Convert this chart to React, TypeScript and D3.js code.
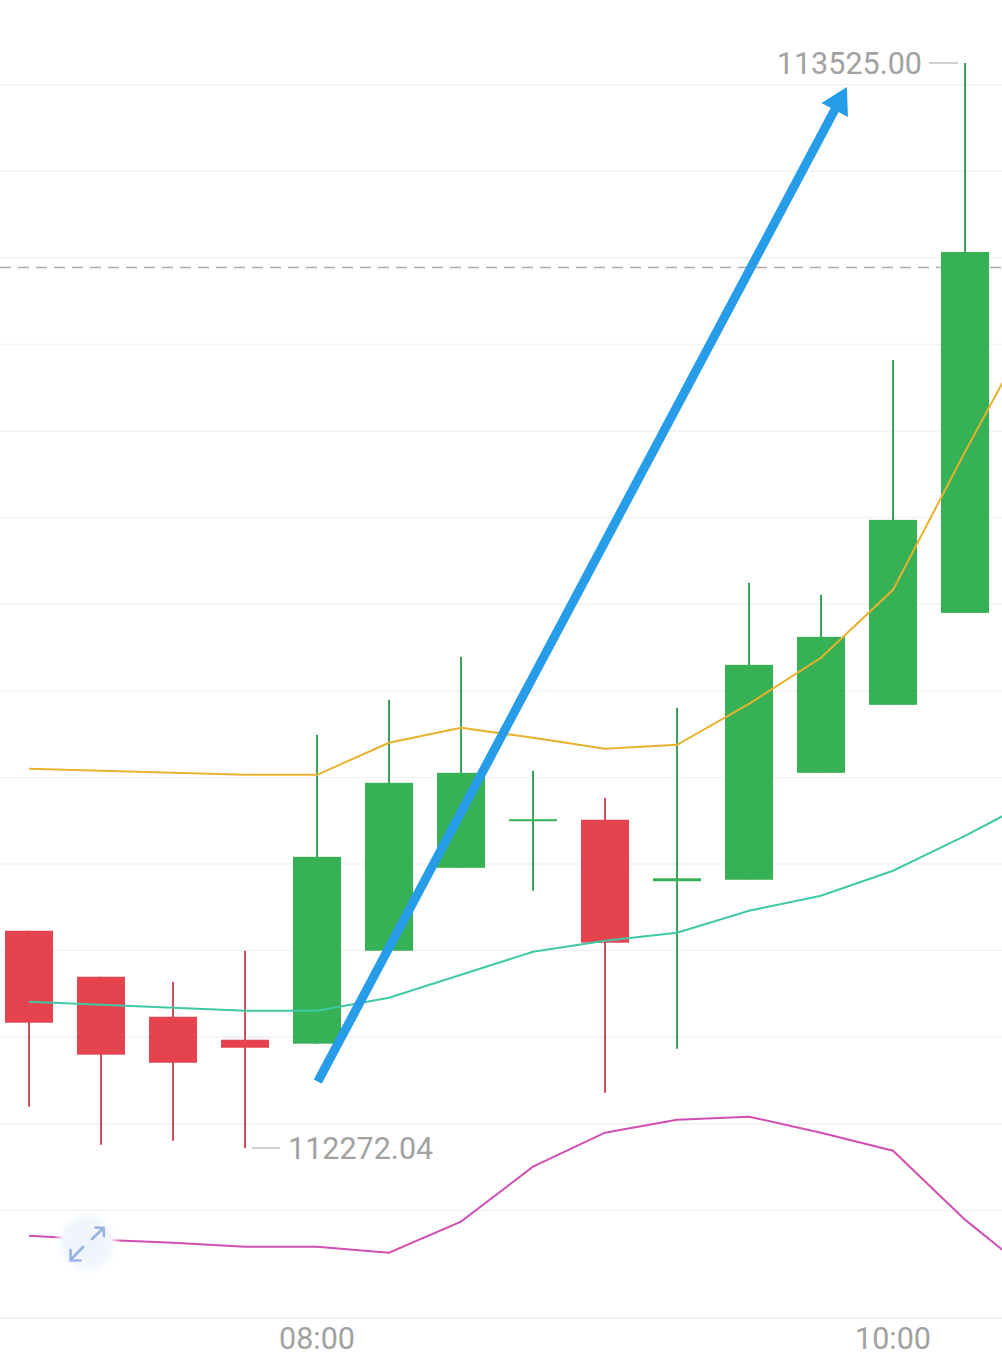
import React from "react";
import * as d3 from "d3";

const times = ["07:00", "07:15", "07:30", "07:45", "08:00", "08:15", "08:30", "08:45", "09:00", "09:15", "09:30", "09:45", "10:00", "10:15"];
const opens = [112522.9, 112469.8, 112423.6, 112397.1, 112392.5, 112499.8, 112595.6, 112651.5, 112651.1, 112580.1, 112581.8, 112705.3, 112783.8, 112890.0];
const closes = [112416.7, 112379.8, 112370.5, 112387.8, 112608.3, 112693.8, 112705.3, 112651.7, 112509.1, 112583.5, 112830.0, 112862.3, 112997.4, 113306.8];
const highs = [112522.9, 112469.8, 112464.0, 112499.8, 112749.2, 112789.6, 112839.2, 112707.6, 112676.5, 112780.4, 112924.7, 112910.8, 113182.1, 113525.0];
const lows = [112319.7, 112275.8, 112280.5, 112272.04, 112392.5, 112499.8, 112595.6, 112569.1, 112335.9, 112386.7, 112581.8, 112705.3, 112783.8, 112890.0];

// Bollinger-style bands (15 points; last one lies just past the right edge)
const upperBand = [112709.9, 112707.6, 112705.3, 112703.0, 112703.0, 112740.0, 112757.3, 112745.7, 112733.0, 112737.6, 112785.0, 112838.1, 112916.6, 113075.9, 113229.5];
const midBand = [112440.9, 112437.5, 112434.0, 112430.6, 112430.6, 112445.6, 112472.1, 112498.7, 112511.4, 112520.6, 112546.0, 112563.3, 112592.2, 112632.5, 112676.0];
const lowerBand = [112170.8, 112166.2, 112162.7, 112158.1, 112158.1, 112151.2, 112187.0, 112250.5, 112289.7, 112304.7, 112308.2, 112289.7, 112268.9, 112189.3, 112122.3];

const gridValues = [112200, 112300, 112400, 112500, 112600, 112700, 112800, 112900, 113000, 113100, 113200, 113300, 113400, 113500];
const currentPrice = 113288.7;
const maxLabel = "113525.00";
const minLabel = "112272.04";
const xTickLabels = ["08:00", "10:00"];

// Drawn trend arrow annotation: [candle index, price]
const arrowFrom = [4.01, 112348.6];
const arrowTo = [11.36, 113497.3];

const W = 1002;
const H = 1357;
const GREEN = "#37b155";
const GREEN_WICK = "#3f9f5d";
const RED = "#e5444f";
const RED_WICK = "#d44a5b";
const TEXT = "#a2a2a2";
const FONT = "Roboto, 'Noto Sans', sans-serif";
const FS = 30.5;

export default function App() {
  const x = d3.scaleLinear().domain([0, times.length - 1]).range([29, 965]);
  const y = d3.scaleLinear().domain([112272.04, 113525]).range([1148, 63]);
  const bodyW = 48;
  const axisY = 1318;

  const line = d3
    .line<number>()
    .x((_, i) => x(i))
    .y((d) => y(d));

  const candles = times.map((t, i) => {
    const o = opens[i];
    const c = closes[i];
    const up = c >= o;
    const top = y(Math.max(o, c));
    const bot = y(Math.min(o, c));
    const h = Math.max(bot - top, 2);
    return (
      <g key={t}>
        <line
          x1={x(i)}
          x2={x(i)}
          y1={y(highs[i])}
          y2={y(lows[i])}
          stroke={up ? GREEN_WICK : RED_WICK}
          strokeWidth={2}
        />
        <rect x={x(i) - bodyW / 2} y={top} width={bodyW} height={h} fill={up ? GREEN : RED} />
      </g>
    );
  });

  const maxIdx = highs.indexOf(d3.max(highs) as number);
  const minIdx = lows.indexOf(d3.min(lows) as number);

  // arrow geometry
  const ax1 = x(arrowFrom[0]);
  const ay1 = y(arrowFrom[1]);
  const ax2 = x(arrowTo[0]);
  const ay2 = y(arrowTo[1]);
  const len = Math.hypot(ax2 - ax1, ay2 - ay1);
  const ux = (ax2 - ax1) / len;
  const uy = (ay2 - ay1) / len;
  const headLen = 26;
  const headHalf = 15;
  const bx = ax2 - ux * headLen;
  const by = ay2 - uy * headLen;
  const px = -uy;
  const py = ux;
  const headPts = [
    [ax2, ay2],
    [bx + px * headHalf, by + py * headHalf],
    [bx - px * headHalf, by - py * headHalf],
  ]
    .map((p) => p.join(","))
    .join(" ");

  return (
    <svg
      width={W}
      height={H}
      style={{ position: "absolute", left: 0, top: 0, background: "#fff" }}
    >
      <defs>
        <clipPath id="plot">
          <rect x={0} y={0} width={W} height={axisY} />
        </clipPath>
        <radialGradient id="iconBg">
          <stop offset="0%" stopColor="#eef3fc" />
          <stop offset="70%" stopColor="#f2f6fd" />
          <stop offset="100%" stopColor="#ffffff" stopOpacity={0} />
        </radialGradient>
      </defs>
      <rect x={0} y={0} width={W} height={H} fill="#fff" />

      {gridValues.map((v) => (
        <line key={v} x1={0} x2={W} y1={y(v)} y2={y(v)} stroke="#f2f2f2" strokeWidth={1.5} />
      ))}
      <line x1={0} x2={W} y1={axisY} y2={axisY} stroke="#eeeeee" strokeWidth={1.5} />

      <line
        x1={0}
        x2={W}
        y1={y(currentPrice)}
        y2={y(currentPrice)}
        stroke="#ababab"
        strokeWidth={1.5}
        strokeDasharray="11 7"
      />

      <g clipPath="url(#plot)">
        {candles}
        <path d={line(upperBand) || ""} fill="none" stroke="#e9b22c" strokeWidth={2} />
        <path d={line(midBand) || ""} fill="none" stroke="#3fc9a5" strokeWidth={2} />
        <path d={line(lowerBand) || ""} fill="none" stroke="#d14fb2" strokeWidth={2} />
      </g>

      <line
        x1={x(maxIdx) - 36}
        x2={x(maxIdx) - 7}
        y1={y(highs[maxIdx])}
        y2={y(highs[maxIdx])}
        stroke="#c2c2c2"
        strokeWidth={1.5}
      />
      <text
        x={x(maxIdx) - 43}
        y={y(highs[maxIdx]) + 10.5}
        textAnchor="end"
        fontFamily={FONT}
        fontSize={FS}
        fill={TEXT}
      >
        {maxLabel}
      </text>
      <line
        x1={x(minIdx) + 7}
        x2={x(minIdx) + 35}
        y1={y(lows[minIdx])}
        y2={y(lows[minIdx])}
        stroke="#c2c2c2"
        strokeWidth={1.5}
      />
      <text
        x={x(minIdx) + 43}
        y={y(lows[minIdx]) + 10.5}
        textAnchor="start"
        fontFamily={FONT}
        fontSize={FS}
        fill={TEXT}
      >
        {minLabel}
      </text>

      {xTickLabels.map((lbl) => {
        const i = times.indexOf(lbl);
        return (
          <text
            key={lbl}
            x={x(i)}
            y={1348.5}
            textAnchor="middle"
            fontFamily={FONT}
            fontSize={FS}
            fill={TEXT}
          >
            {lbl}
          </text>
        );
      })}

      <line x1={ax1} y1={ay1} x2={bx + ux * 2} y2={by + uy * 2} stroke="#279dea" strokeWidth={9} />
      <polygon points={headPts} fill="#279dea" />

      <g>
        <circle cx={87} cy={1243} r={34} fill="url(#iconBg)" />
        <g stroke="#9ab3e2" strokeWidth={2.6} fill="none" strokeLinecap="round" strokeLinejoin="round">
          <path d="M92,1239 L103.5,1228" />
          <path d="M95.5,1227.5 L103.5,1228 L104,1236" />
          <path d="M83,1247 L71,1259.5" />
          <path d="M70.5,1250 L70.5,1260.5 L80.5,1260.5" />
        </g>
      </g>
    </svg>
  );
}
